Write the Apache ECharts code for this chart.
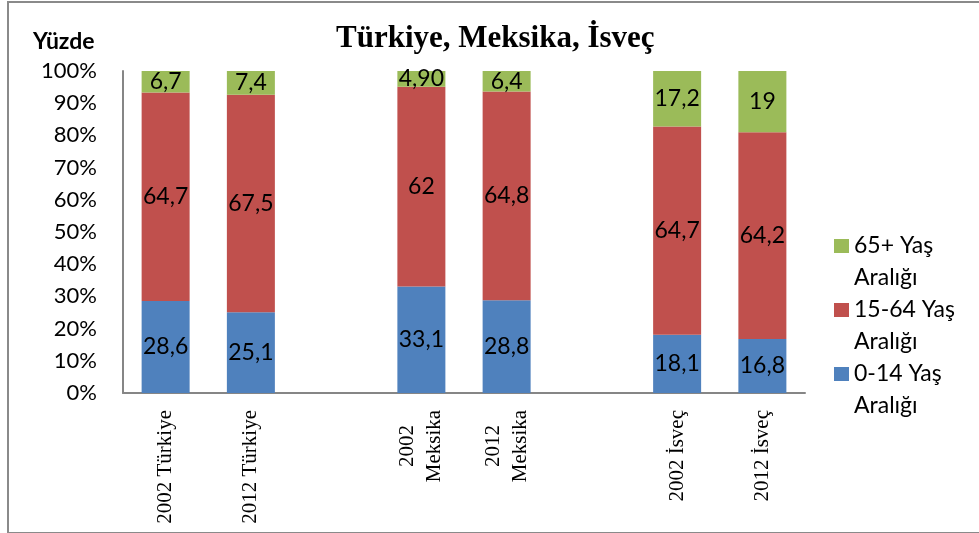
<!DOCTYPE html>
<html>
<head>
<meta charset="utf-8">
<script src="https://cdn.jsdelivr.net/npm/echarts@6/dist/echarts.min.js"></script>
<style>
  html, body { margin: 0; padding: 0; background: #fff; }
  #chart { width: 979px; height: 533px; }
  .frame {
    position: absolute; left: 7px; top: 1px; width: 990px; height: 529px;
    border: 2px solid #8a8a8a; pointer-events: none;
  }
</style>
</head>
<body>
<div id="chart"></div>
<div class="frame"></div>
<script>
// categories ('' = empty slot between country groups)
const categories = ['2002 Türkiye', '2012 Türkiye', '', '2002\nMeksika', '2012\nMeksika', '', '2002 İsveç', '2012 İsveç'];
const young = [28.6, 25.1, '-', 33.1, 28.8, '-', 18.1, 16.8];
const working = [64.7, 67.5, '-', 62, 64.8, '-', 64.7, 64.2];
const elderly = [6.7, 7.4, '-', 4.9, 6.4, '-', 17.2, 19];
const elderlyLabels = ['6,7', '7,4', '', '4,90', '6,4', '', '17,2', '19'];
const yTicks = [0, 10, 20, 30, 40, 50, 60, 70, 80, 90, 100];

const sans = 'Lato';
const serif = 'Liberation Serif';

const chart = echarts.init(document.getElementById('chart'));

function commaLabel(p) {
  return String(p.value).replace('.', ',');
}

const labelStyle = {
  show: true,
  position: 'inside',
  color: '#000',
  fontFamily: sans,
  fontSize: 23
};

const option = {
  animation: false,
  title: [
    {
      text: 'Türkiye, Meksika, İsveç',
      left: 336,
      top: 23,
      padding: 0,
      textStyle: { fontFamily: serif, fontWeight: 'bold', fontSize: 31, color: '#000' }
    },
    {
      text: 'Yüzde',
      left: 33,
      top: 30,
      padding: 0,
      textStyle: { fontFamily: sans, fontWeight: 'bold', fontSize: 23, color: '#000' }
    }
  ],
  legend: {
    orient: 'vertical',
    left: 834,
    top: 198,
    padding: 0,
    itemGap: -32,
    itemWidth: 15,
    itemHeight: 14,
    icon: 'rect',
    itemStyle: { borderWidth: 0 },
    data: ['65+ Yaş Aralığı', '15-64 Yaş Aralığı', '0-14 Yaş Aralığı'],
    // blank first line keeps the square level with the first text line
    formatter: name => ' \n' + name.replace(' Aralığı', '\nAralığı'),
    textStyle: {
      fontFamily: sans, fontSize: 23, color: '#000',
      lineHeight: 32
    }
  },
  grid: { left: 123, right: 174, top: 71, bottom: 140 },
  xAxis: {
    type: 'category',
    data: categories,
    axisLine: { lineStyle: { color: '#868686', width: 2 } },
    axisTick: { show: false },
    axisLabel: {
      interval: 0,
      rotate: 90,
      margin: 17,
      color: '#000',
      fontFamily: serif,
      fontSize: 21,
      lineHeight: 27,
      formatter: v => v.indexOf('\n') >= 0
        ? v.split('\n').map(s => '{c|' + s + '}').join('\n')
        : v,
      rich: {
        c: { width: 72, align: 'center', fontFamily: serif, fontSize: 21, lineHeight: 27, color: '#000' }
      }
    }
  },
  yAxis: {
    type: 'value',
    min: yTicks[0],
    max: yTicks[yTicks.length - 1],
    interval: 10,
    axisLine: { show: true, lineStyle: { color: '#868686', width: 2 } },
    axisTick: { show: false },
    splitLine: { show: false },
    axisLabel: {
      margin: 26,
      color: '#000',
      fontFamily: sans,
      fontSize: 22,
      formatter: '{value}%'
    }
  },
  series: [
    {
      name: '0-14 Yaş Aralığı',
      type: 'bar',
      stack: 'total',
      barWidth: 48,
      data: young,
      itemStyle: { color: '#4F81BD' },
      label: Object.assign({}, labelStyle, { formatter: commaLabel })
    },
    {
      name: '15-64 Yaş Aralığı',
      type: 'bar',
      stack: 'total',
      barWidth: 48,
      data: working,
      itemStyle: { color: '#C0504D' },
      label: Object.assign({}, labelStyle, { formatter: commaLabel })
    },
    {
      name: '65+ Yaş Aralığı',
      type: 'bar',
      stack: 'total',
      barWidth: 48,
      data: elderly,
      itemStyle: { color: '#9BBB59' },
      label: Object.assign({}, labelStyle, { formatter: p => elderlyLabels[p.dataIndex] })
    }
  ]
};

chart.setOption(option);
</script>
</body>
</html>
